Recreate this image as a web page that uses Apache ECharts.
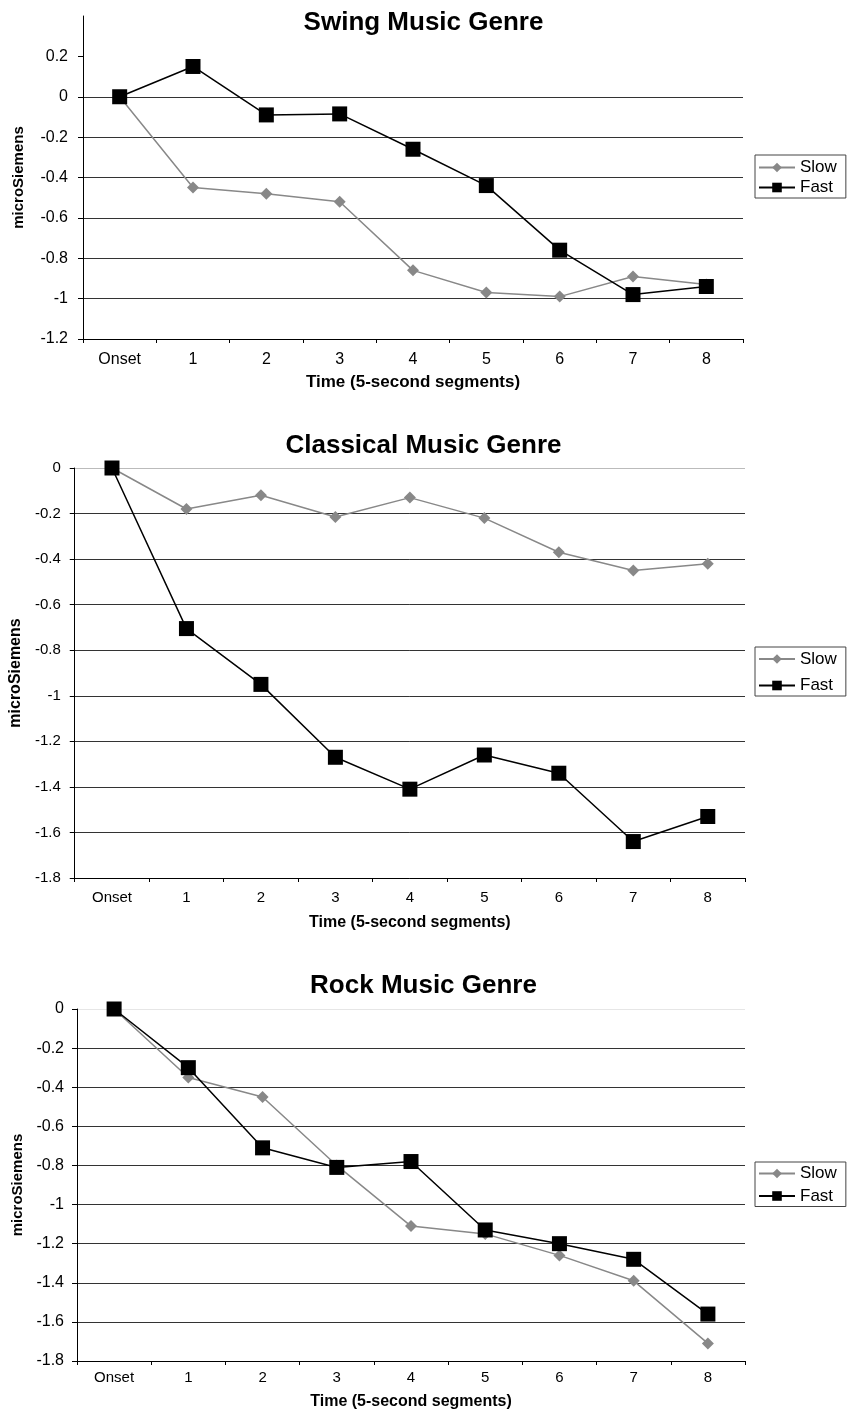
<!DOCTYPE html>
<html>
<head>
<meta charset="utf-8">
<script src="https://cdn.jsdelivr.net/npm/echarts@6/dist/echarts.min.js"></script>
<style>
  html, body { margin: 0; padding: 0; background: #ffffff; }
  #chart { width: 847px; height: 1414px; }
</style>
</head>
<body>
<div id="chart"></div>
<script>
// Skin conductance change per 5-second segment, by music genre and tempo
const timeLabels = ['Onset', '1', '2', '3', '4', '5', '6', '7', '8'];
const seriesNames = ['Slow', 'Fast'];
const genreTitles = ['Swing Music Genre', 'Classical Music Genre', 'Rock Music Genre'];
const xAxisTitle = 'Time (5-second segments)';
const yAxisTitle = 'microSiemens';

const swingSlow = [0, -0.45, -0.48, -0.52, -0.86, -0.97, -0.99, -0.89, -0.93];
const swingFast = [0, 0.15, -0.09, -0.085, -0.26, -0.44, -0.76, -0.98, -0.94];
const classicalSlow = [0, -0.18, -0.12, -0.215, -0.13, -0.22, -0.37, -0.45, -0.42];
const classicalFast = [0, -0.705, -0.95, -1.27, -1.41, -1.26, -1.34, -1.64, -1.53];
const rockSlow = [0, -0.35, -0.45, -0.80, -1.11, -1.15, -1.26, -1.39, -1.71];
const rockFast = [0, -0.30, -0.71, -0.81, -0.78, -1.13, -1.20, -1.28, -1.56];

const swingTicks = [-1.2, -1, -0.8, -0.6, -0.4, -0.2, 0, 0.2];
const classicalTicks = [-1.8, -1.6, -1.4, -1.2, -1, -0.8, -0.6, -0.4, -0.2, 0];
const rockTicks = [-1.8, -1.6, -1.4, -1.2, -1, -0.8, -0.6, -0.4, -0.2, 0];

// Layout of the three stacked panels
const panels = [
  {
    slow: swingSlow, fast: swingFast, ticks: swingTicks, min: -1.2, max: 0.4,
    grid: { left: 83, top: 16, width: 660, height: 323 },
    titleTop: 10,
    legend: { left: 755, top: 155, padding: [4, 9, 2, 3], itemGap: 3 },
    yLabelSize: 16, yLabelMargin: 15, xLabelSize: 16, xLabelMargin: 13,
    xNameSize: 17, xNameGap: 35, yNameSize: 15, yNameGap: 57,
    showMaxLine: false, topLineColor: '#333333'
  },
  {
    slow: classicalSlow, fast: classicalFast, ticks: classicalTicks, min: -1.8, max: 0,
    grid: { left: 71, top: 468, width: 674, height: 410 },
    titleTop: 433,
    legend: { left: 755, top: 647, padding: [3.5, 9, 2, 3], itemGap: 9.5 },
    yLabelSize: 15, yLabelMargin: 14, xLabelSize: 15, xLabelMargin: 12,
    xNameSize: 16, xNameGap: 37, yNameSize: 16, yNameGap: 45,
    showMaxLine: true, topLineColor: '#bbbbbb'
  },
  {
    slow: rockSlow, fast: rockFast, ticks: rockTicks, min: -1.8, max: 0,
    grid: { left: 77, top: 1009, width: 668, height: 352 },
    titleTop: 973,
    legend: { left: 755, top: 1162, padding: [3, 9, 2, 3], itemGap: 5.5 },
    yLabelSize: 16, yLabelMargin: 13, xLabelSize: 15, xLabelMargin: 9.5,
    xNameSize: 16, xNameGap: 33, yNameSize: 15, yNameGap: 51,
    showMaxLine: true, topLineColor: '#e6e6e6'
  }
];

const FONT = 'Liberation Sans, Arial, sans-serif';
const option = {
  animation: false,
  backgroundColor: '#ffffff',
  title: [], legend: [], grid: [], xAxis: [], yAxis: [], series: []
};

panels.forEach((p, i) => {
  option.title.push({
    text: genreTitles[i],
    left: 'center',
    top: p.titleTop,
    padding: 0,
    textStyle: { fontFamily: FONT, fontSize: 26, fontWeight: 'bold', color: '#000' }
  });

  option.grid.push(Object.assign({ containLabel: false }, p.grid));

  option.xAxis.push({
    type: 'category',
    gridIndex: i,
    data: timeLabels,
    boundaryGap: true,
    name: xAxisTitle,
    nameLocation: 'middle',
    nameGap: p.xNameGap,
    nameTextStyle: { fontFamily: FONT, fontSize: p.xNameSize, fontWeight: 'bold', color: '#000' },
    axisLine: { onZero: false, lineStyle: { color: '#000', width: 1 } },
    axisTick: { show: true, inside: false, length: 4, lineStyle: { color: '#000' } },
    axisLabel: { fontFamily: FONT, fontSize: p.xLabelSize, color: '#000', margin: p.xLabelMargin },
    splitLine: { show: false }
  });

  // one split line per tick above the minimum; the last one is the top edge
  const lineColors = p.ticks.slice(1).map(() => '#333333');
  if (p.showMaxLine) lineColors[lineColors.length - 1] = p.topLineColor;

  option.yAxis.push({
    type: 'value',
    gridIndex: i,
    min: p.min,
    max: p.max,
    interval: 0.2,
    name: yAxisTitle,
    nameLocation: 'middle',
    nameRotate: 90,
    nameGap: p.yNameGap,
    nameTextStyle: { fontFamily: FONT, fontSize: p.yNameSize, fontWeight: 'bold', color: '#000' },
    axisLine: { show: true, lineStyle: { color: '#000', width: 1 } },
    axisTick: { show: true, inside: false, length: 5, customValues: p.ticks, lineStyle: { color: '#000' } },
    axisLabel: { fontFamily: FONT, fontSize: p.yLabelSize, color: '#000', margin: p.yLabelMargin, customValues: p.ticks },
    splitLine: {
      show: true,
      showMinLine: false,
      showMaxLine: p.showMaxLine,
      lineStyle: { color: lineColors, width: 1 }
    }
  });

  option.legend.push({
    orient: 'vertical',
    left: p.legend.left,
    top: p.legend.top,
    padding: p.legend.padding,
    itemGap: p.legend.itemGap,
    itemWidth: 36,
    itemHeight: 12,
    borderColor: '#444444',
    borderWidth: 1,
    backgroundColor: '#ffffff',
    selectedMode: false,
    data: seriesNames.map(n => ({ name: n })),
    textStyle: { fontFamily: FONT, fontSize: 17, color: '#000' }
  });

  option.series.push({
    name: seriesNames[0],
    type: 'line',
    xAxisIndex: i,
    yAxisIndex: i,
    data: p.slow,
    symbol: 'diamond',
    symbolSize: 12,
    lineStyle: { color: '#888888', width: 1.5 },
    itemStyle: { color: '#888888' },
    z: 3
  });
  option.series.push({
    name: seriesNames[1],
    type: 'line',
    xAxisIndex: i,
    yAxisIndex: i,
    data: p.fast,
    symbol: 'rect',
    symbolSize: 15,
    lineStyle: { color: '#000000', width: 1.5 },
    itemStyle: { color: '#000000' },
    z: 4
  });
});

const chart = echarts.init(document.getElementById('chart'), null, { renderer: 'canvas' });
chart.setOption(option);
</script>
</body>
</html>
